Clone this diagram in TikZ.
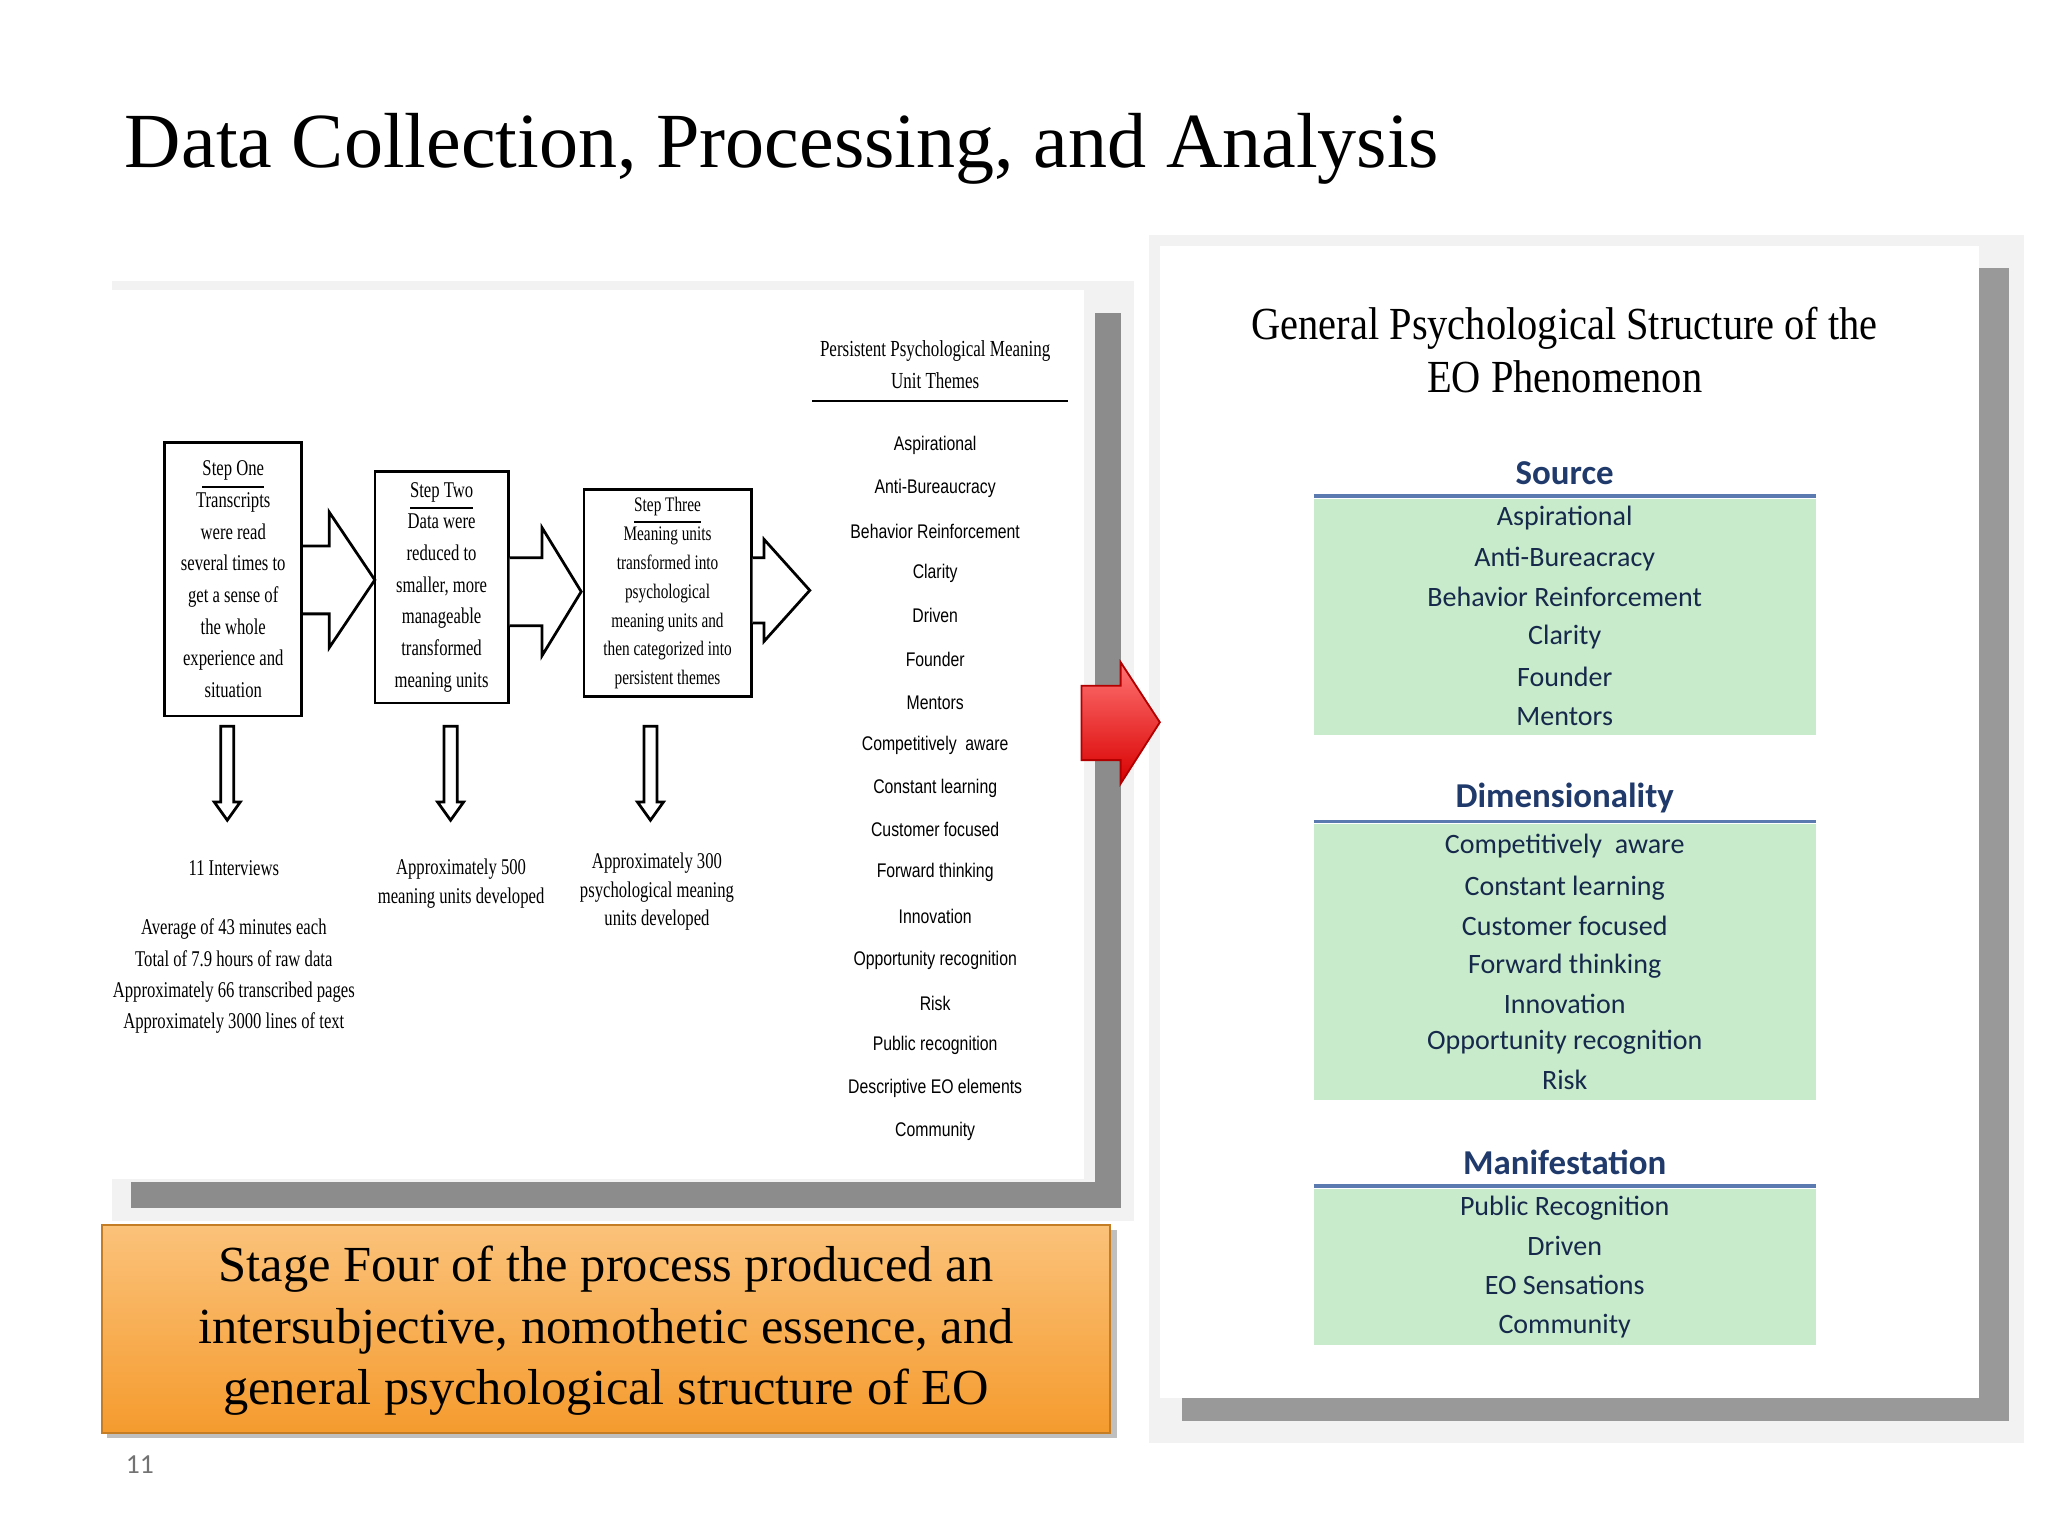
\documentclass[tikz,border=0pt]{standalone}
\usepackage{fontspec}
\setmainfont{Liberation Serif}
\newfontfamily\cond[FakeStretch=0.74]{Liberation Serif}
\newfontfamily\condb[FakeStretch=0.88]{Liberation Serif}
\newfontfamily\condsans[FakeStretch=0.8]{Liberation Sans}
\newfontfamily\carl{Carlito}
\usetikzlibrary{shapes.arrows,shadows}
\definecolor{hdblue}{HTML}{1F3A6B}
\definecolor{lnblue}{HTML}{5B7BB0}
\definecolor{grn}{HTML}{C8EBCB}
\definecolor{org1}{HTML}{FBC27A}
\definecolor{org2}{HTML}{F59B2E}
\tikzset{
 stepbox/.style={draw,semithick,inner sep=0pt},
 lt/.style={font=\cond\fontsize{4.9}{6.3}\selectfont,align=center,inner sep=0pt},
 theme/.style={font=\condsans\fontsize{4.3}{5}\selectfont,inner sep=0pt},
 item/.style={font=\carl\fontsize{6.1}{7}\selectfont,text=hdblue!70!black,inner sep=0pt},
 sechd/.style={font=\carl\bfseries\fontsize{7.6}{8}\selectfont,text=hdblue,inner sep=0pt},
 blockarr/.style={draw,semithick,fill=white},
}
\begin{document}
\begin{tikzpicture}[x=0.01cm,y=-0.01cm]
\useasboundingbox (0,0) rectangle (1568,1176);
\fill[white] (0,0) rectangle (1568,1176);
\node[anchor=base west,font=\fontsize{17}{20}\selectfont,inner sep=0pt] (title) at (95,128) {Data Collection, Processing, and Analysis};
% left panel
\fill[black!5] (86,215) rectangle (868,935);
\fill[black!45] (838,240) rectangle (858,925);
\fill[black!45] (100,905) rectangle (858,925);
\fill[white] (80,222) rectangle (830,903);
% right panel
\fill[black!5] (880,180) rectangle (1550,1105);
\fill[black!40] (1515,205) rectangle (1538,1088);
\fill[black!40] (905,1070) rectangle (1538,1088);
\fill[white] (888,188) rectangle (1515,1070);
% step boxes
\node[stepbox,minimum width=1.05cm,minimum height=2.09cm,anchor=north west] (s1) at (125,338) {};
\node[stepbox,minimum width=1.02cm,minimum height=1.77cm,anchor=north west] (s2) at (286,360) {};
\node[stepbox,minimum width=1.28cm,minimum height=1.58cm,anchor=north west] (s3) at (446,374) {};
\node[lt] (t1) at (s1.center) {\underline{Step One}\\[0.6pt]Transcripts\\[0.6pt]were read\\[0.6pt]several times to\\[0.6pt]get a sense of\\[0.6pt]the whole\\[0.6pt]experience and\\[0.6pt]situation};
\node[lt] (t2) at (s2.center) {\underline{Step Two}\\[0.6pt]Data were\\[0.6pt]reduced to\\[0.6pt]smaller, more\\[0.6pt]manageable\\[0.6pt]transformed\\[0.6pt]meaning units};
\node[lt,font=\cond\fontsize{4.5}{6.3}\selectfont] (t3) at (s3.center) {\underline{Step Three}\\Meaning units\\transformed into\\psychological\\meaning units and\\then categorized into\\persistent themes};
% block arrows right
\draw[blockarr] (s1.east|-0,418) -- (252,418) -- (252,392) -- (287,444) -- (252,496) -- (252,470) -- (s1.east|-0,470);
\draw[blockarr] (s2.east|-0,427) -- (415,427) -- (415,404) -- (445,453) -- (415,502) -- (415,479) -- (s2.east|-0,479);
\draw[blockarr] (s3.east|-0,427) -- (585,427) -- (585,413) -- (620,452) -- (585,491) -- (585,477) -- (s3.east|-0,477);
% down arrows
\foreach \x/\n in {174/d1,345/d2,498/d3}{
 \draw[semithick,fill=white] (\x-5,556) -- (\x+5,556) -- (\x+5,614) -- (\x+10,614) -- (\x,628) -- (\x-10,614) -- (\x-5,614) -- cycle;
 \coordinate (\n) at (\x,628);
}
\node[lt,anchor=north] (b1) at (179,658) {11 Interviews};
\node[lt,anchor=north] (b1b) at (179,703) {Average of 43 minutes each\\[0.5pt]Total of 7.9 hours of raw data\\[0.5pt]Approximately 66 transcribed pages\\[0.5pt]Approximately 3000 lines of text};
\node[lt,anchor=north] (b2) at (353,657) {Approximately 500\\meaning units developed};
\node[lt,anchor=north] (b3) at (503,652) {Approximately 300\\psychological meaning\\units developed};
% themes
\node[lt,anchor=north,font=\cond\fontsize{5}{7}\selectfont] (th) at (716,260) {Persistent Psychological Meaning\\Unit Themes};
\draw[semithick] (622,307) -- (818,307);
\foreach \y/\t [count=\i] in {341/Aspirational,374/Anti-Bureaucracy,407/Behavior Reinforcement,439/Clarity,471/Driven,505/Founder,538/Mentors,571/{Competitively\ \ aware},604/Constant learning,635/Customer focused,668/Forward thinking,702/Innovation,735/Opportunity recognition,768/Risk,800/Public recognition,833/Descriptive EO elements,866/Community}
 \node[theme] (th\i) at (716,\y) {\t};
% red arrow
\shade[top color=red!55,bottom color=red!85!black,draw=red!70!black] (828,525) -- (858,525) -- (858,507) -- (888,553) -- (858,600) -- (858,582) -- (828,582) -- cycle;
% orange box
\fill[black!25] (82,942) rectangle (855,1101);
\shade[top color=org1,bottom color=org2,draw=org2!80!black] (78,938) rectangle (850,1097);
\node[align=center,font=\fontsize{11}{13.4}\selectfont,inner sep=0pt] (stage) at (464,1019) {Stage Four of the process produced an\\intersubjective, nomothetic essence, and\\general psychological structure of EO};
\node[font=\carl\fontsize{6}{7}\selectfont,text=black!55,inner sep=0pt] (pg) at (107,1121) {11};
% right content
\node[align=center,font=\condb\fontsize{10}{11.6}\selectfont,inner sep=0pt] (rt) at (1198,268) {General Psychological Structure of the\\EO Phenomenon};
\foreach \hy/\ly/\bt/\bb/\h in {362/380/382/563/Source,611/629/631/842/Dimensionality,890/908/910/1030/Manifestation}{
 \fill[grn] (1006,\bt) rectangle (1390,\bb);
 \draw[lnblue,thick] (1006,\ly) -- (1390,\ly);
 \node[sechd] at (1198,\hy) {\h};
}
\foreach \y/\t [count=\i] in {397/Aspirational,428/Anti-Bureacracy,457/Behavior Reinforcement,488/Clarity,518/Founder,549/Mentors,648/{Competitively\ \ aware},680/Constant learning,709/Customer focused,740/Forward thinking,769/Innovation,798/Opportunity recognition,827/Risk,925/Public Recognition,954/Driven,984/EO Sensations,1015/Community}
 \node[item] (r\i) at (1198,\y) {\t};
\end{tikzpicture}
\end{document}
